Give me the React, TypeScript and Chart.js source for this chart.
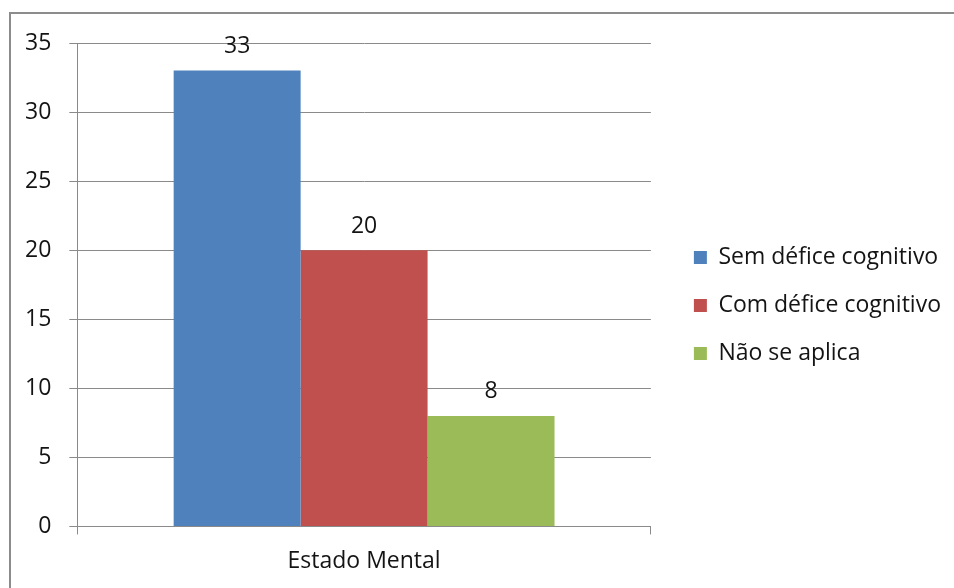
import React, { useEffect, useRef } from "react";
import { Chart, registerables } from "chart.js";

Chart.register(...registerables);

// ---- data ----
const categories: string[] = ["Estado Mental"];
const seriesNames: string[] = ["Sem défice cognitivo", "Com défice cognitivo", "Não se aplica"];
const semDefice: number[] = [33];
const comDefice: number[] = [20];
const naoSeAplica: number[] = [8];
const yMin = 0;
const yMax = 35;
const yStep = 5;

const seriesColors = ["#4F81BD", "#C0504D", "#9BBB59"];
const FONT = "'Open Sans', 'DejaVu Sans', sans-serif";
const TEXT = "#141414";
const GRID = "#8a8a8a";

const valueLabels = {
  id: "valueLabels",
  afterDatasetsDraw(chart: any) {
    const ctx = chart.ctx;
    ctx.save();
    ctx.font = `23px ${FONT}`;
    ctx.fillStyle = TEXT;
    ctx.textAlign = "center";
    ctx.textBaseline = "middle";
    chart.data.datasets.forEach((ds: any, i: number) => {
      const meta = chart.getDatasetMeta(i);
      meta.data.forEach((el: any, j: number) => {
        ctx.fillText(String(ds.data[j]), el.x, el.y - 24);
      });
    });
    ctx.restore();
  },
};

export default function App() {
  const ref = useRef<HTMLCanvasElement | null>(null);

  useEffect(() => {
    if (!ref.current) return;
    const data = [semDefice, comDefice, naoSeAplica];
    const chart = new Chart(ref.current, {
      type: "bar",
      data: {
        labels: categories,
        datasets: seriesNames.map((name, i) => ({
          label: name,
          data: data[i],
          backgroundColor: seriesColors[i],
          borderWidth: 0,
          barPercentage: 1,
          categoryPercentage: 0.664,
          yAxisID: "y",
        })),
      },
      options: {
        responsive: false,
        maintainAspectRatio: false,
        animation: false,
        layout: { padding: { top: 23, bottom: 0, left: 7, right: 3 } },
        plugins: {
          title: {
            display: true,
            text: " ",
            padding: 0,
            font: { size: 20, lineHeight: 1.0 },
          },
          tooltip: { enabled: false },
          legend: {
            position: "right",
            align: "center",
            maxWidth: 400,
            labels: {
              boxWidth: 13,
              boxHeight: 13,
              padding: 25,
              color: TEXT,
              font: { family: FONT, size: 23 },
            },
          },
        },
        scales: {
          x: {
            grid: {
              display: true,
              drawOnChartArea: false,
              drawTicks: true,
              tickLength: 8,
              color: GRID,
            },
            border: { display: true, color: GRID, width: 1 },
            ticks: { color: TEXT, padding: 13, font: { family: FONT, size: 23 } },
          },
          y: {
            min: yMin,
            max: yMax,
            ticks: { stepSize: yStep, color: TEXT, padding: 18, font: { family: FONT, size: 23 } },
            grid: { color: GRID, tickLength: 8, drawTicks: true },
            border: { display: true, color: GRID, width: 1 },
          },
          yRight: {
            position: "right",
            display: true,
            grid: { display: false, drawTicks: false },
            ticks: { display: false },
            border: { display: false },
            afterFit: (s: any) => {
              s.width = 18;
            },
          },
        },
      },
      plugins: [valueLabels],
    });
    return () => chart.destroy();
  }, []);

  return (
    <div style={{ position: "fixed", left: 0, top: 0, width: 954, height: 588, overflow: "hidden", background: "#fff" }}>
      <div
        style={{
          position: "absolute",
          left: 9,
          top: 12,
          width: 2000,
          height: 2000,
          borderLeft: "2px solid #8c8c8c",
          borderTop: "2px solid #8c8c8c",
        }}
      />
      <canvas ref={ref} width={954} height={588} style={{ position: "absolute", left: 0, top: 0, display: "block" }} />
    </div>
  );
}
